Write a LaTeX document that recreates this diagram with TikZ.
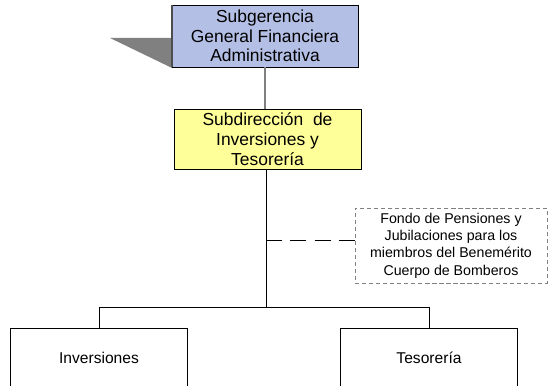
\documentclass[tikz,border=0pt]{standalone}
\usepackage{fontspec}
\setmainfont{Liberation Sans}
\usepackage{tikz}
\usetikzlibrary{calc}
\usetikzlibrary{positioning}
\definecolor{periwinkle}{RGB}{180, 191, 229}
\definecolor{canary}{RGB}{255, 255, 153}
\definecolor{ashgray}{RGB}{128, 128, 128}

\begin{document}
\begin{tikzpicture}[
    unidad/.style={draw=black, thin, align=center, inner sep=0pt,
                   font=\fontsize{12.4}{14}\selectfont},
    oficina/.style={draw=black, thin, align=center, anchor=north,
                    minimum width=4.42cm, minimum height=1.5cm,
                    font=\fontsize{11.1}{13}\selectfont},
    enlace/.style={black, thin}]
            % Frame to fix the page
            \useasboundingbox                                                 (0.00, 0.00) rectangle (13.70, 9.65);
            % Shadow of the top unit
            \fill[ashgray]                                                    (2.75, 8.70) -- (4.30, 8.70) -- (4.30, 7.95) -- cycle;
            % Units
            \node[unidad, fill=periwinkle, minimum width=4.65cm, minimum height=1.55cm] (sub) at ( 6.625, 8.750)
                 {Subgerencia\\General Financiera\\Administrativa};
            \draw[ashgray!60!black, line width=1.2pt] (sub.south west) -- (sub.north west);
            \node[unidad, fill=canary, minimum width=4.675cm, minimum height=1.50cm]    (yel) at ( 6.688, 6.175)
                 {Subdirección~~de\\Inversiones y\\Tesorería};
            \node[draw=ashgray, dash pattern=on 3pt off 2pt, align=center, inner sep=0pt,
                  minimum width=4.80cm, minimum height=1.875cm,
                  font=\fontsize{10.1}{12.4}\selectfont]                     (fondo) at (11.275, 3.510)
                 {Fondo de Pensiones y\\Jubilaciones para los\\miembros del Benemérito\\Cuerpo de Bomberos};
            \node[oficina]                                                    (inv) at ( 2.475, 1.450) {Inversiones};
            \node[oficina]                                                    (tes) at (10.725, 1.450) {Tesorería};
            % Connectors
            \coordinate (junta) at ( 6.65, 1.975);
            \coordinate (link)  at ( 6.65, 3.650);
            \draw[ashgray, line width=1.4pt] (sub.south) -- (sub.south |- yel.north);
            \draw[enlace] (yel.south -| junta) -- (junta);
            \draw[enlace] (inv.north |- junta) -- (tes.north |- junta);
            \draw[enlace] (inv.north |- junta) -- (inv.north);
            \draw[enlace] (tes.north |- junta) -- (tes.north);
            \draw[enlace, dash pattern=on 11.5pt off 5.8pt] (link) -- (link -| fondo.west);
\end{tikzpicture}
\end{document}
